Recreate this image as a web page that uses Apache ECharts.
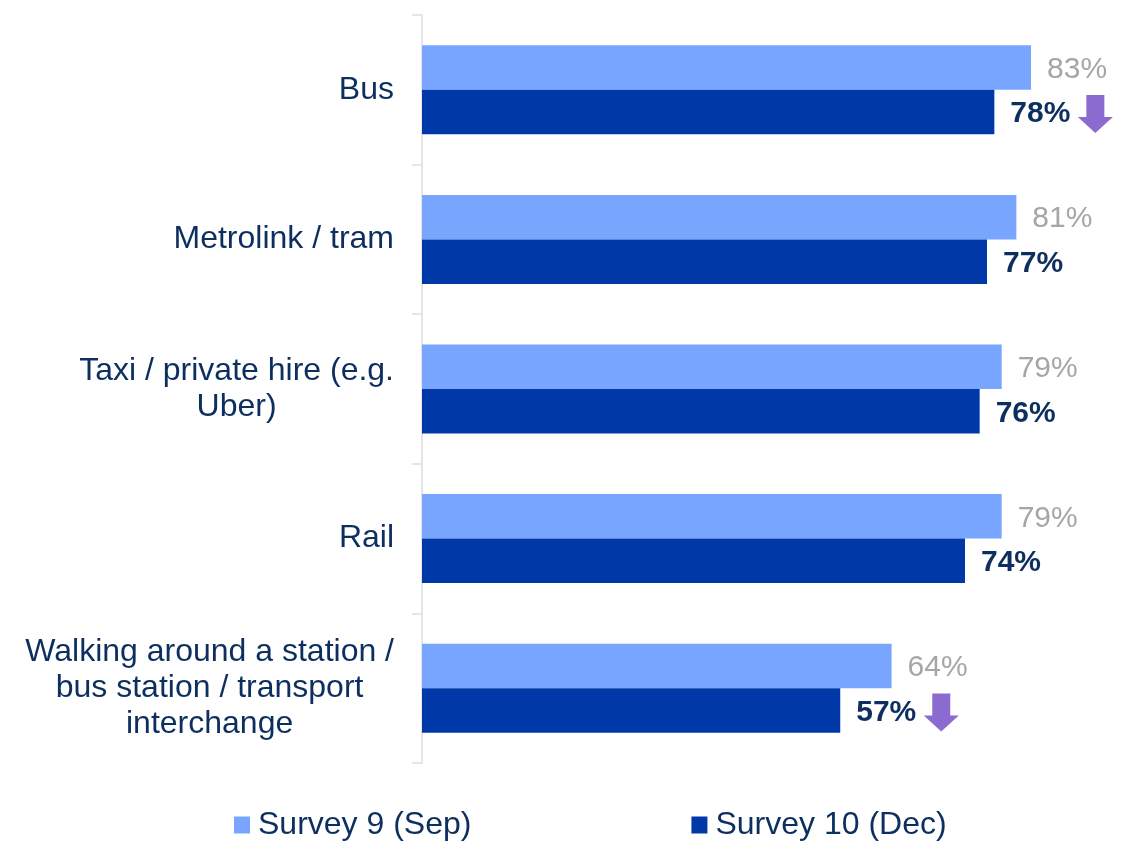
<!DOCTYPE html>
<html>
<head>
<meta charset="utf-8">
<script src="https://cdn.jsdelivr.net/npm/echarts@6/dist/echarts.min.js"></script>
<style>
  html, body { margin: 0; padding: 0; background: #ffffff; }
  #chart { width: 1128px; height: 850px; }
</style>
</head>
<body>
<div id="chart"></div>
<script>
// Share of respondents per transport mode, two survey waves
const categories = [
  'Bus',
  'Metrolink / tram',
  'Taxi / private hire (e.g.\nUber)',
  'Rail',
  'Walking around a station /\nbus station / transport\ninterchange'
];
const seriesNames = ['Survey 9 (Sep)', 'Survey 10 (Dec)'];
const survey9 = [83, 81, 79, 79, 64];
const survey10 = [78, 77, 76, 74, 57];
// Modes with a significant decrease between the two waves
const significantDrop = [true, false, false, false, true];

const NAVY = '#0D2F5F';
const LIGHT = '#78A6FF';
const DARK = '#0038A8';
const ARROW = '#8C6BD1';

const dropMarks = categories
  .map((c, i) => significantDrop[i] ? { coord: [survey10[i], c] } : null)
  .filter(Boolean);

const chart = echarts.init(document.getElementById('chart'), null, { renderer: 'canvas' });

chart.setOption({
  backgroundColor: '#ffffff',
  animation: false,
  textStyle: { fontFamily: 'Liberation Sans, Arial, sans-serif' },
  grid: { left: 422, top: 15, bottom: 87, right: 45.6, containLabel: false },
  xAxis: {
    type: 'value', min: 0, max: 90, show: false,
    splitLine: { show: false }
  },
  yAxis: {
    type: 'category',
    data: categories,
    inverse: true,
    axisLine: { show: true, lineStyle: { color: '#E6E6E6', width: 2 } },
    axisTick: { show: true, length: 10, lineStyle: { color: '#E6E6E6', width: 2 } },
    axisLabel: {
      margin: 28,
      align: 'right',
      formatter: v => v.split('\n').map(l => '{c|' + l + '}').join('\n'),
      rich: {
        c: {
          align: 'center',
          fontSize: 32,
          lineHeight: 36,
          color: NAVY,
          fontFamily: 'Liberation Sans, Arial, sans-serif'
        }
      }
    }
  },
  legend: {
    data: seriesNames,
    left: 234,
    top: 808,
    padding: 0,
    itemWidth: 16,
    itemHeight: 17,
    itemGap: 220,
    icon: 'rect',
    textStyle: {
      fontSize: 32,
      lineHeight: 34,
      color: NAVY,
      padding: [0, 0, 0, 3],
      fontFamily: 'Liberation Sans, Arial, sans-serif'
    }
  },
  series: [
    {
      name: seriesNames[0],
      type: 'bar',
      data: survey9,
      barWidth: 44.5,
      barGap: '0%',
      itemStyle: { color: LIGHT },
      label: {
        show: true,
        position: 'right',
        distance: 16,
        offset: [0, 2],
        formatter: '{c}%',
        fontSize: 30,
        color: '#A6A6A6'
      }
    },
    {
      name: seriesNames[1],
      type: 'bar',
      data: survey10,
      barWidth: 44.5,
      barGap: '0%',
      itemStyle: { color: DARK },
      label: {
        show: true,
        position: 'right',
        distance: 16,
        offset: [0, 2],
        formatter: '{c}%',
        fontSize: 30,
        fontWeight: 'bold',
        color: NAVY
      },
      markPoint: {
        symbol: 'path://M8.5,0 H26.5 V22 H35 L17.5,38 L0,22 H8.5 Z',
        symbolSize: [35, 38],
        symbolOffset: [101, 2],
        itemStyle: { color: ARROW },
        label: { show: false },
        data: dropMarks
      }
    }
  ]
});
</script>
</body>
</html>
